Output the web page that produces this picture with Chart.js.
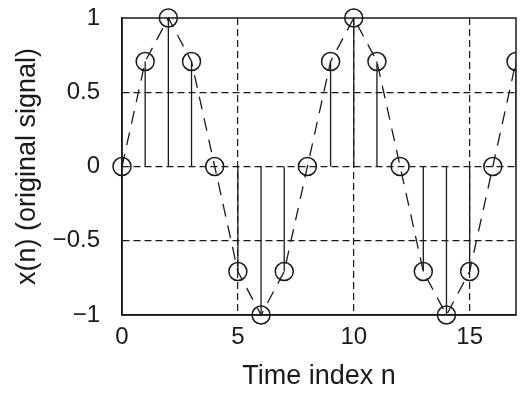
<!DOCTYPE html>
<html>
<head>
<meta charset="utf-8">
<script src="https://cdn.jsdelivr.net/npm/chart.js@4"></script>
<style>
  body { margin: 0; background: #fff; }
</style>
</head>
<body>
<canvas id="signalChart" width="521" height="393"></canvas>
<script>
const timeIndex = [0, 1, 2, 3, 4, 5, 6, 7, 8, 9, 10, 11, 12, 13, 14, 15, 16, 17];
const signalValues = [0, 0.707, 1, 0.707, 0, -0.707, -1, -0.707, 0, 0.707, 1, 0.707, 0, -0.707, -1, -0.707, 0, 0.707];
const xTicks = [0, 5, 10, 15];
const yTicks = [-1, -0.5, 0, 0.5, 1];
const yTickLabels = ['\u22121', '\u22120.5', '0', '0.5', '1'];

const FONT = '"Liberation Sans", Arial, Helvetica, sans-serif';
const INK = '#1a1a1a';

// samples joined by the dashed line + circles
const samplePoints = timeIndex.map((n, i) => ({ x: n, y: signalValues[i] }));
// stems: 0 -> value, broken by null
const stemPoints = [];
timeIndex.forEach((n, i) => {
    stemPoints.push({ x: n, y: 0 }, { x: n, y: signalValues[i] }, { x: n, y: null });
});

// box around the plot area
const framePlugin = {
    id: 'frame',
    beforeDatasetsDraw(chart) {
        const a = chart.chartArea;
        const ctx = chart.ctx;
        ctx.save();
        ctx.strokeStyle = INK;
        ctx.lineWidth = 1.5;
        ctx.strokeRect(a.left, a.top, a.right - a.left, a.bottom - a.top);
        ctx.restore();
    }
};

const edgeColor = (lo, hi) => (c) => {
    const v = c.tick ? c.tick.value : null;
    return (v === lo || v === hi) ? 'rgba(0,0,0,0)' : INK;
};

new Chart(document.getElementById('signalChart'), {
    type: 'line',
    data: {
        datasets: [
            {
                data: samplePoints,
                borderColor: INK,
                borderWidth: 1.3,
                borderDash: [13, 9],
                pointRadius: 9,
                pointBorderWidth: 1.5,
                pointBorderColor: INK,
                pointBackgroundColor: 'rgba(0,0,0,0)',
                tension: 0,
                clip: { left: false, top: false, right: 0, bottom: false }
            },
            {
                data: stemPoints,
                borderColor: INK,
                borderWidth: 1.3,
                pointRadius: 0,
                spanGaps: false,
                tension: 0
            }
        ]
    },
    options: {
        responsive: false,
        animation: false,
        devicePixelRatio: 1,
        layout: { autoPadding: false, padding: { top: 18, right: 5, bottom: 0, left: 0 } },
        plugins: { legend: { display: false }, tooltip: { enabled: false } },
        scales: {
            x: {
                type: 'linear',
                min: 0,
                max: 17,
                afterBuildTicks: s => { s.ticks = xTicks.map(v => ({ value: v })); },
                afterFit: s => { s.height = 78; },
                grid: { color: edgeColor(0, 17), lineWidth: 1.2, drawTicks: false },
                border: { display: true, color: INK, width: 1.5, dash: [7, 4] },
                ticks: { color: INK, padding: 8, maxRotation: 0, font: { family: FONT, size: 24 } },
                title: {
                    display: true,
                    text: 'Time index n',
                    color: INK,
                    padding: { top: 0, bottom: 0 },
                    font: { family: FONT, size: 27 }
                }
            },
            y: {
                min: -1,
                max: 1,
                afterBuildTicks: s => { s.ticks = yTicks.map(v => ({ value: v })); },
                afterFit: s => { s.width = 122; s.paddingTop = 0; s.paddingBottom = 0; },
                grid: { color: edgeColor(-1, 1), lineWidth: 1.2, drawTicks: false },
                border: { display: true, color: INK, width: 1.5, dash: [7, 4] },
                ticks: {
                    color: INK,
                    padding: 22,
                    font: { family: FONT, size: 24 },
                    callback: v => yTickLabels[yTicks.indexOf(v)]
                },
                title: {
                    display: true,
                    text: 'x(n) (original signal)',
                    color: INK,
                    padding: { top: 11, bottom: 0 },
                    font: { family: FONT, size: 27 }
                }
            }
        }
    },
    plugins: [framePlugin]
});
</script>
</body>
</html>
